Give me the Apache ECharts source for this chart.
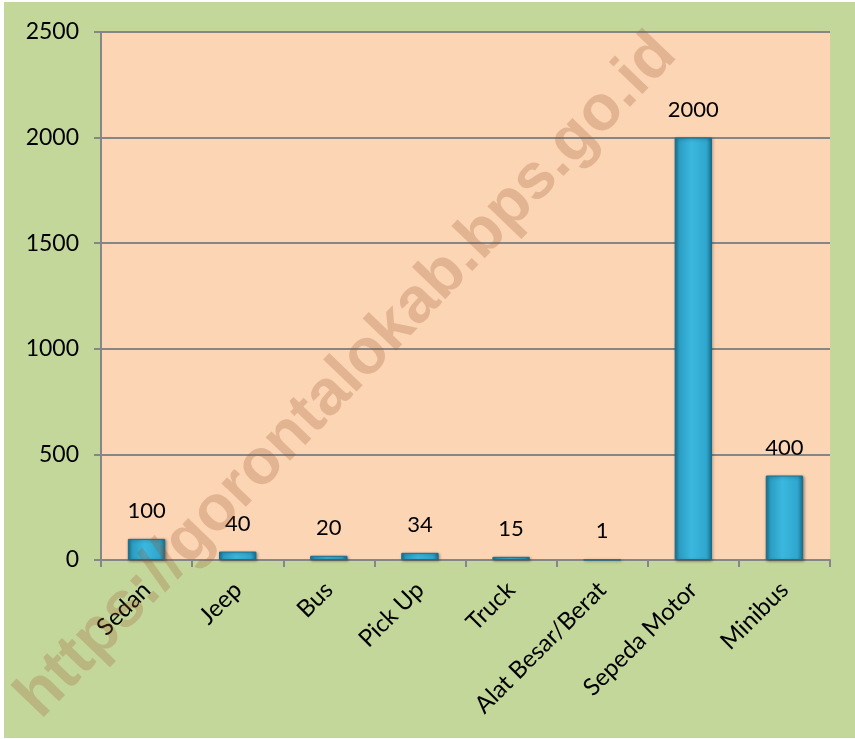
<!DOCTYPE html>
<html>
<head>
<meta charset="utf-8">
<script src="https://cdn.jsdelivr.net/npm/echarts@6/dist/echarts.min.js"></script>
<style>
  html, body { margin: 0; padding: 0; background: #fff; }
  #chart { position: absolute; left: 4px; top: 2px; width: 851px; height: 736px; }
</style>
</head>
<body>
<div id="chart"></div>
<script>
  // jenis kendaraan
  var categories = ['Sedan', 'Jeep', 'Bus', 'Pick Up', 'Truck', 'Alat Besar/Berat', 'Sepeda Motor', 'Minibus'];
  var values = [100, 40, 20, 34, 15, 1, 2000, 400];
  var yTicks = [0, 500, 1000, 1500, 2000, 2500];

  var chart = echarts.init(document.getElementById('chart'));

  var barColor = new echarts.graphic.LinearGradient(0, 0, 1, 0, [
    { offset: 0, color: '#1d7896' },
    { offset: 0.12, color: '#2b9cc2' },
    { offset: 0.45, color: '#3bb8df' },
    { offset: 0.85, color: '#2fa6cd' },
    { offset: 1, color: '#1a6f8c' }
  ]);

  var option = {
    backgroundColor: '#c4d79b',
    animation: false,
    textStyle: { fontFamily: 'Lato' },
    grid: {
      left: 97, top: 30, right: 25, bottom: 178,
      show: true, backgroundColor: '#fcd5b4', borderWidth: 0
    },
    xAxis: {
      type: 'category',
      data: categories,
      axisLine: { lineStyle: { color: '#868686', width: 2 } },
      axisTick: { show: true, length: 7, interval: 0, lineStyle: { color: '#868686', width: 2 } },
      axisLabel: { interval: 0, rotate: 45, color: '#000', fontSize: 24, margin: 26 }
    },
    yAxis: {
      type: 'value',
      min: yTicks[0],
      max: yTicks[yTicks.length - 1],
      interval: 500,
      axisLine: { show: true, lineStyle: { color: '#868686', width: 2 } },
      axisTick: { show: true, length: 7, lineStyle: { color: '#868686', width: 2 } },
      splitLine: { lineStyle: { color: '#868686', width: 2 } },
      axisLabel: { color: '#000', fontSize: 23, margin: 22, formatter: function (v) { return String(v); } }
    },
    series: [{
      type: 'bar',
      data: values,
      barWidth: '41%',
      itemStyle: {
        color: barColor,
        borderColor: '#1b6e8a',
        borderWidth: 1,
        shadowColor: 'rgba(0,0,0,0.35)',
        shadowBlur: 3,
        shadowOffsetX: 1,
        shadowOffsetY: 1
      },
      label: {
        show: true,
        position: 'top',
        distance: 17,
        color: '#000',
        fontSize: 22
      }
    }],
    graphic: [{
      type: 'text',
      x: 343,
      y: 374,
      rotation: Math.PI / 4 + 0.02,
      z: 100,
      style: {
        text: 'https://gorontalokab.bps.go.id',
        font: 'bold 64px "Liberation Sans"',
        fill: 'rgba(150, 85, 45, 0.25)',
        align: 'center',
        verticalAlign: 'middle'
      }
    }]
  };

  chart.setOption(option);
  window.addEventListener('resize', function () {
    chart.resize();
  });
</script>
</body>
</html>
